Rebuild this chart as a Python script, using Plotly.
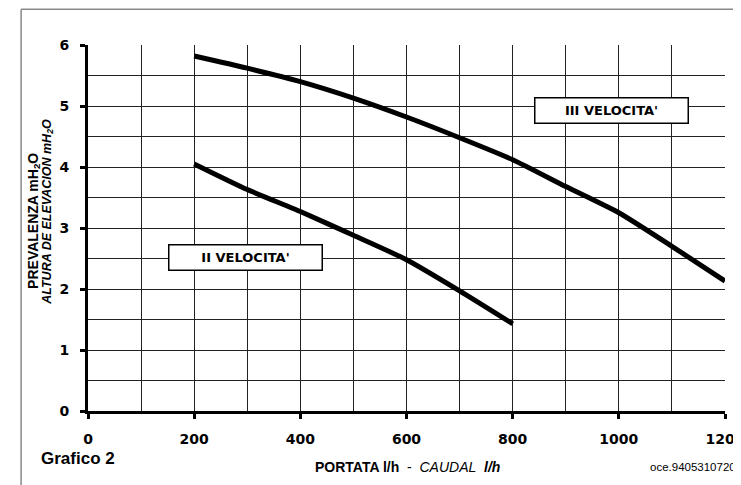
import plotly.graph_objects as go

# Data
flow_ii = [200, 300, 400, 500, 600, 700, 800]
head_ii = [4.05, 3.63, 3.27, 2.88, 2.48, 1.97, 1.43]

flow_iii = [200, 300, 400, 500, 600, 700, 800, 900, 1000, 1100, 1200]
head_iii = [5.82, 5.62, 5.40, 5.13, 4.82, 4.48, 4.12, 3.68, 3.25, 2.70, 2.13]

x_ticks = [0, 200, 400, 600, 800, 1000, 1200]
y_ticks = [0, 1, 2, 3, 4, 5, 6]

FONT = "Liberation Sans"
TICKFONT = "DejaVu Sans"

fig = go.Figure()
fig.add_trace(go.Scatter(x=flow_ii, y=head_ii, mode="lines",
                         line=dict(color="black", width=5, shape="spline", smoothing=0.6),
                         showlegend=False, hoverinfo="skip"))
fig.add_trace(go.Scatter(x=flow_iii, y=head_iii, mode="lines",
                         line=dict(color="black", width=5, shape="spline", smoothing=0.6),
                         showlegend=False, hoverinfo="skip"))

fig.update_layout(
    width=741, height=485,
    margin=dict(l=80, r=24, t=37, b=82),
    paper_bgcolor="white", plot_bgcolor="white",
    font=dict(family=FONT, color="black"),
    xaxis=dict(range=[0, 1200], tickvals=x_ticks, ticktext=[str(v) for v in x_ticks],
               automargin=False,
               showgrid=True, gridcolor="#222", gridwidth=1.3,
               minor=dict(dtick=100, showgrid=True, gridcolor="#222", gridwidth=1.3),
               showline=True, linecolor="black", linewidth=3,
               ticks="outside", ticklen=5, tickwidth=3, tickcolor="black",
               ticklabelstandoff=8,
               tickfont=dict(family=TICKFONT, size=14, color="black", weight="bold"),
               zeroline=False, fixedrange=True),
    yaxis=dict(range=[0, 6], tickvals=y_ticks,
               automargin=False,
               showgrid=True, gridcolor="#222", gridwidth=1.3,
               minor=dict(dtick=0.5, showgrid=True, gridcolor="#222", gridwidth=1.3),
               showline=True, linecolor="black", linewidth=3,
               ticks="outside", ticklen=5, tickwidth=3, tickcolor="black",
               ticklabelstandoff=8,
               tickfont=dict(family=TICKFONT, size=14, color="black", weight="bold"),
               zeroline=False, fixedrange=True),
)

# Frame lines around the figure
fig.add_shape(type="line", xref="paper", yref="paper", x0=-0.105, x1=1.05, y0=1.098, y1=1.098,
              line=dict(color="#888", width=1.5))
fig.add_shape(type="line", xref="paper", yref="paper", x0=-0.105, x1=-0.105, y0=1.098, y1=-0.25,
              line=dict(color="#888", width=1.5))

# Curve labels in boxes
for txt, xv, yv in [("III VELOCITA'", 987, 4.92), ("II VELOCITA'", 296, 2.51)]:
    fig.add_annotation(x=xv, y=yv, text="<b>" + txt + "</b>", showarrow=False,
                       font=dict(family=TICKFONT, size=13, color="black"),
                       bgcolor="white", bordercolor="black", borderwidth=1.5,
                       width=150, height=22, align="center", xanchor="center", yanchor="middle")

# Axis titles
fig.add_annotation(xref="paper", yref="paper", x=-0.086, y=0.52, textangle=-90,
                   xanchor="center", yanchor="middle",
                   text="<b>PREVALENZA mH<sub>2</sub>O</b>", showarrow=False,
                   font=dict(family=FONT, size=14, color="black"))
fig.add_annotation(xref="paper", yref="paper", x=-0.064, y=0.545, textangle=-90,
                   xanchor="center", yanchor="middle",
                   text="<b><i>ALTURA DE ELEVACION mH<sub>2</sub>O</i></b>", showarrow=False,
                   font=dict(family=FONT, size=12.5, color="black"))
fig.add_annotation(xref="paper", yref="paper", x=0.501, y=-0.153,
                   xanchor="center", yanchor="middle",
                   text="<b>PORTATA l/h</b>  -  <i>CAUDAL</i>  <b><i>l/h</i></b>", showarrow=False,
                   font=dict(family=FONT, size=14, color="black"))
fig.add_annotation(xref="paper", yref="paper", x=-0.077, y=-0.131,
                   xanchor="left", yanchor="middle",
                   text="<b>Grafico 2</b>", showarrow=False,
                   font=dict(family=FONT, size=17, color="black"))
fig.add_annotation(xref="paper", yref="paper", x=0.879, y=-0.153,
                   xanchor="left", yanchor="middle",
                   text="oce.9405310720", showarrow=False,
                   font=dict(family=FONT, size=11.5, color="black"))

fig.write_html("out.html")
